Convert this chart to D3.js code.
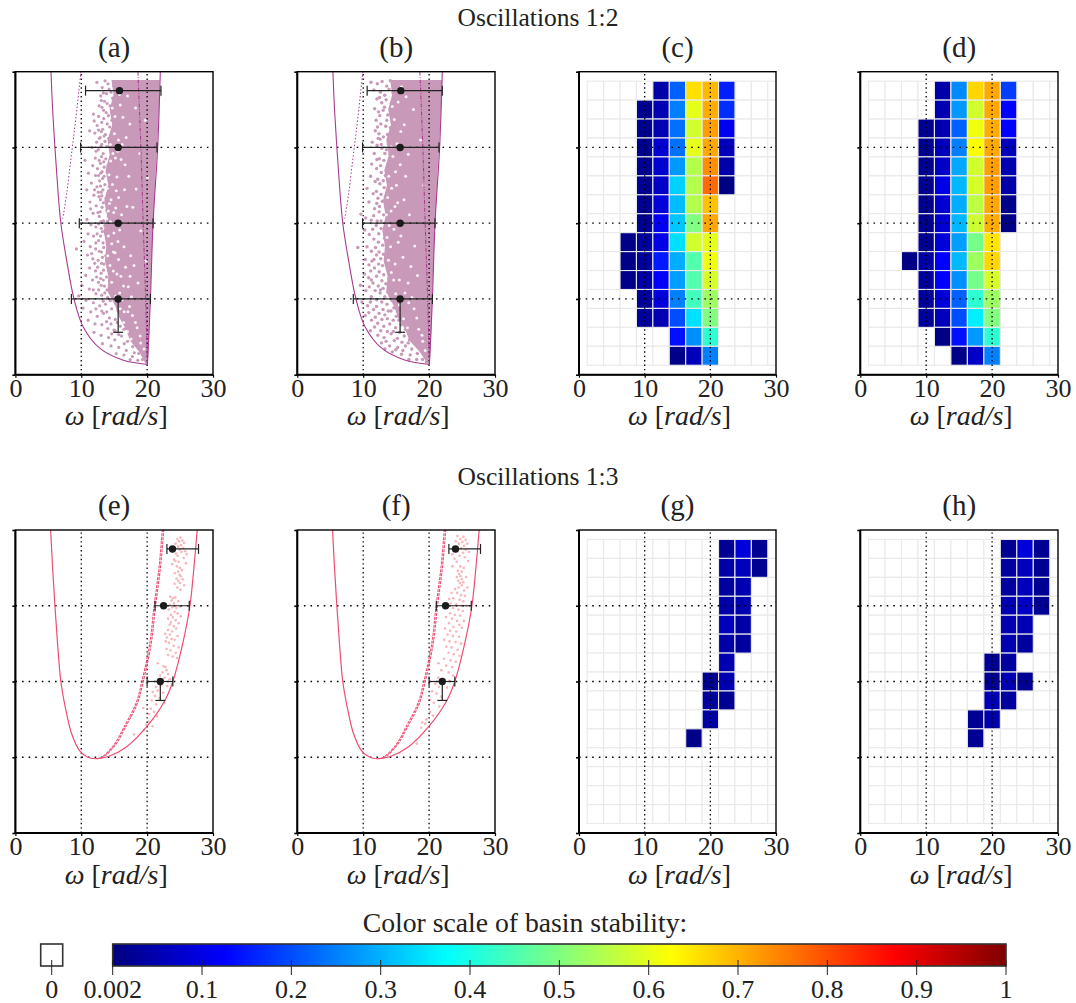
<!DOCTYPE html>
<html>
<head>
<meta charset="utf-8">
<script src="https://cdn.jsdelivr.net/npm/d3@7/dist/d3.min.js"></script>
<style>
  html, body { margin: 0; padding: 0; background: #fff; }
  text { font-family: "Liberation Serif", serif; fill: #222; }
</style>
</head>
<body>
<svg id="chart" width="1076" height="1003"></svg>
<script>
// ---- data ----
var xTicks = [0, 10, 20, 30];
var yTicks = [0, 1, 2, 3, 4];
var gridX = [10, 20];
var gridY = [1, 2, 3];
var columns = [2.5, 5, 7.5, 10, 12.5, 15, 17.5, 20, 22.5, 25, 27.5, 30];
var rows = [3.75, 3.5, 3.25, 3, 2.75, 2.5, 2.25, 2, 1.75, 1.5, 1.25, 1, 0.75, 0.5, 0.25];

// boundary curves [omega, theta]
var curveLeft12 = [[5.4,4],[5.65,3.5],[6,3],[6.4,2.5],[6.9,2],[7.8,1.5],[8.9,1],[10.3,0.63],[12.8,0.35],[16.4,0.19],[20.05,0.135]];
var curveRight12 = [[22,4],[21.6,3],[20.9,2],[20.5,1],[20.05,0.135]];
var curveDotted12 = [[9.95,4],[9.2,3.4],[8.5,2.9],[7.8,2.4],[7.2,2.06]];
var curveDash12 = [[18.6,4],[19.05,3],[19.4,2],[19.75,1.07],[20.05,0.135]];
var curveLeft13 = [[5.35,4],[5.65,3.5],[6,3],[6.4,2.5],[6.9,2],[7.6,1.65],[8.5,1.32],[9.8,1.08],[11,1],[12.2,0.98]];
var curveRight13 = [[12.2,0.98],[14.1,1.01],[16.9,1.14],[19.9,1.4],[22.7,1.75],[23.9,2],[25.4,2.5],[26.5,3],[27.1,3.5],[27.6,4]];
var curveDash13 = [[12.2,0.98],[13.1,1],[15.1,1.18],[16.5,1.4],[18.3,1.71],[19.2,2],[20.4,2.5],[21.06,3],[21.8,3.5],[22.3,4]];

// dense part of the oscillation 1:2 clouds [theta, left omega, right omega]
var denseA = [[3.89,14.6,21.9],[3.7,14.9,21.85],[3.5,14.3,21.8],[3.3,14.7,21.7],[3.1,14,21.55],[2.9,14.3,21.45],[2.7,13.7,21.3],[2.5,14.1,21.2],[2.3,13.5,21.1],[2.1,13.9,20.95],[1.9,13.4,20.85],[1.7,13.8,20.75],[1.5,13.6,20.7],[1.3,14.1,20.6],[1.1,14,20.5],[0.9,15.2,20.45],[0.75,15.8,20.4],[0.6,16.8,20.35],[0.45,17.4,20.3],[0.3,18.8,20.2],[0.14,19.8,20.1]];
var denseB = [[3.89,14.1,22],[3.7,14.4,21.9],[3.5,13.8,21.8],[3.3,14.2,21.7],[3.1,13.5,21.55],[2.9,13.9,21.45],[2.7,13.2,21.3],[2.5,13.6,21.2],[2.3,13,21.1],[2.1,13.4,20.95],[1.9,12.9,20.85],[1.7,13.3,20.75],[1.5,13.1,20.7],[1.3,13.7,20.6],[1.1,13.5,20.5],[0.9,14.7,20.45],[0.75,15.3,20.4],[0.6,16.4,20.35],[0.45,17,20.3],[0.3,18.6,20.2],[0.14,19.8,20.1]];

// single points of the clouds [omega, theta]
var scatterA = [[12.37,3.86],[13.61,3.88],[14.92,3.81],[13.18,3.79],[15.23,3.87],[14.07,3.84],[14.51,3.73],[13.83,3.71],[15.44,3.76],[12.96,3.68],[14.77,3.65],[14.23,3.77],[15.08,3.62],[13.52,3.61],[14.38,3.55],[13.14,3.53],[15.37,3.58],[14.86,3.48],[13.79,3.46],[11.84,3.44],[14.12,3.42],[15.19,3.44],[12.63,3.41],[13.41,3.38],[14.64,3.36],[11.96,3.35],[15.02,3.33],[13.94,3.31],[12.41,3.29],[14.31,3.27],[13.26,3.24],[15.28,3.25],[14.72,3.21],[11.27,3.22],[12.07,3.19],[13.67,3.17],[12.88,3.13],[14.18,3.12],[14.94,3.09],[12.34,3.07],[13.11,3.04],[15.11,3.06],[13.86,3.01],[14.47,2.99],[11.63,3],[12.58,2.97],[13.33,2.92],[14.82,2.93],[12.13,2.86],[13.72,2.85],[14.27,2.81],[12.91,2.79],[15.04,2.82],[10.56,2.83],[11.74,2.76],[13.48,2.74],[12.46,2.72],[14.61,2.71],[13.97,2.67],[11.08,2.66],[12.17,2.63],[14.88,2.62],[13.24,2.59],[12.77,2.56],[14.36,2.55],[11.53,2.53],[13.59,2.51],[12.38,2.48],[14.09,2.47],[14.71,2.43],[13.02,2.41],[10.83,2.44],[11.92,2.37],[12.69,2.35],[13.77,2.33],[14.43,2.3],[11.31,2.28],[12.26,2.23],[13.16,2.21],[13.89,2.17],[14.57,2.2],[11.79,2.13],[12.73,2.09],[14.13,2.06],[13.37,2.03],[14.74,2.11],[10.87,2.05],[11.47,1.98],[12.21,1.95],[13.04,1.93],[13.68,1.87],[14.29,1.91],[11.03,1.86],[11.88,1.83],[12.64,1.77],[13.31,1.74],[14.02,1.71],[14.66,1.79],[10.42,1.76],[11.36,1.69],[12.19,1.66],[13.06,1.62],[13.73,1.57],[14.48,1.6],[9.27,1.66],[10.94,1.58],[11.76,1.53],[12.57,1.51],[13.44,1.46],[14.13,1.42],[14.84,1.49],[11.28,1.41],[12.16,1.37],[13.01,1.34],[13.83,1.29],[14.56,1.32],[10.69,1.31],[11.71,1.25],[12.62,1.22],[13.52,1.17],[14.34,1.14],[15.02,1.2],[10.12,1.18],[11.22,1.13],[12.23,1.07],[13.11,1.05],[14.01,1.02],[14.78,1.06],[9.61,1.04],[10.73,0.98],[11.84,0.95],[12.81,0.91],[13.69,0.93],[14.62,0.87],[15.32,0.93],[15.71,1.01],[10.27,0.88],[11.43,0.83],[12.42,0.77],[13.38,0.81],[14.26,0.75],[15.17,0.73],[16.03,0.79],[11.04,0.72],[12.08,0.67],[13.13,0.66],[14.03,0.61],[14.97,0.59],[15.92,0.64],[16.74,0.61],[17.21,0.68],[11.93,0.56],[13.02,0.52],[14.14,0.49],[15.09,0.46],[16.11,0.51],[17.03,0.44],[17.58,0.53],[13.22,0.41],[14.52,0.38],[15.69,0.36],[16.83,0.32],[17.81,0.37],[18.32,0.43],[15.31,0.28],[16.48,0.26],[17.77,0.24],[18.72,0.28],[17.42,0.2],[18.58,0.19],[19.29,0.2],[12.74,3.12],[13.47,3.15],[14.56,3.02],[12.25,2.95],[14.03,2.76],[13.16,2.68],[12.02,2.44],[13.35,2.27],[12.87,2.15],[11.42,2.19],[13.58,1.97],[12.41,1.86],[11.58,1.6],[13.22,1.55],[12.04,1.47],[13.96,1.72],[14.77,1.39],[12.94,1.27],[13.91,1.12],[11.83,1.12],[13.35,0.97],[14.41,0.98],[12.23,0.87],[15.58,0.85],[13.84,0.7],[15.47,0.69],[16.48,0.71],[14.63,0.54],[16.52,0.41],[18.06,0.29],[13.36,3.72],[12.71,3.55],[14.48,3.14],[15.03,2.72],[14.17,2.38],[15.12,2.27],[14.83,1.94],[15.16,1.66],[15.24,1.41],[14.97,1.28],[15.55,1.14],[15.86,0.94],[16.31,0.89],[16.9,0.75],[17.46,0.6],[18.0,0.5],[18.57,0.4],[19.11,0.33],[19.6,0.24],[13.04,3.62],[13.39,3.49],[13.93,3.58],[13.12,3.33],[12.62,3.23],[13.04,3.21],[13.61,3.08],[12.95,3.01],[13.08,2.88],[12.72,2.83],[13.41,2.81],[12.62,2.63],[12.96,2.66],[13.47,2.62],[12.92,2.49],[13.29,2.44],[12.58,2.41],[12.91,2.31],[13.11,2.36],[12.53,2.14],[12.98,2.02],[12.62,1.99],[12.93,1.83],[13.21,1.89],[12.21,1.74],[12.74,1.63],[13.41,1.68],[12.48,1.42],[13.09,1.47],[13.37,1.38],[12.33,1.29],[13.34,1.25],[13.02,1.18],[12.64,1.12],[13.57,1.08],[13.12,0.84],[13.88,0.83],[14.51,0.67],[15.14,0.58],[15.68,0.53],[16.49,0.6]];
var holesA = [[15.81,3.7],[16.32,3.4],[15.64,3.1],[17.38,3.31],[16.04,2.84],[15.42,2.61],[16.57,2.44],[15.23,2.2],[17.22,2.62],[15.83,1.91],[16.48,1.69],[15.14,1.61],[18.01,1.44],[16.02,1.3],[17.14,1.16],[15.83,1.08],[17.32,0.9],[18.22,0.69],[18.93,0.51],[19.53,0.34],[16.21,3.04],[18.24,3.52],[19.71,3.36],[17.83,2.21],[19.04,1.9],[18.61,1.21],[15.92,3.56],[15.68,2.34],[16.12,2.11],[15.57,1.76],[16.72,1.42],[16.41,1.17],[17.62,1.03],[17.09,0.83],[17.77,0.78],[18.48,0.62],[19.02,0.42],[16.82,3.13],[15.55,2.95],[16.93,2.22],[17.51,1.57],[16.65,2.77],[17.02,3.68],[15.66,1.52],[16.2,0.99],[17.41,1.3],[18.9,2.92],[20.05,2.6],[19.8,1.5],[18.33,2.45],[14.7,3.52],[15.12,3.41],[14.42,3.04],[14.81,2.92],[14.21,2.64],[14.72,2.51],[13.94,2.46],[14.52,2.31],[14.11,2.16],[13.86,2.06],[14.44,2.02],[14.12,1.83],[14.63,1.73],[14.03,1.57],[14.36,1.44],[14.87,1.37],[14.61,1.22],[15.22,1.04],[15.91,0.87],[16.44,0.69],[17.02,0.57],[15.03,3.18],[14.92,2.14],[14.95,1.87],[15.18,2.86],[15.32,2.43],[14.47,2.82],[14.28,2.26],[14.88,1.62],[15.42,1.33],[16.52,0.83],[17.56,0.47]];

var scatterB = [[11.18,3.86],[12.14,3.84],[12.87,3.87],[13.56,3.81],[14.12,3.88],[11.63,3.76],[12.61,3.73],[13.27,3.69],[13.91,3.77],[14.52,3.72],[12.08,3.64],[12.82,3.59],[13.48,3.63],[14.26,3.58],[14.81,3.66],[11.74,3.51],[12.33,3.47],[13.03,3.49],[13.72,3.43],[14.37,3.46],[14.93,3.39],[11.96,3.36],[12.68,3.31],[13.41,3.28],[14.14,3.26],[14.76,3.31],[11.83,3.22],[12.39,3.18],[13.07,3.14],[13.69,3.17],[14.31,3.09],[14.92,3.14],[11.37,3.07],[12.11,3.03],[12.83,2.99],[13.52,2.97],[14.09,2.91],[14.71,2.98],[11.68,2.92],[12.44,2.85],[13.13,2.83],[13.84,2.79],[14.46,2.84],[11.29,2.78],[12.03,2.72],[12.74,2.67],[13.37,2.63],[14.01,2.59],[14.63,2.66],[11.12,2.62],[11.81,2.55],[12.53,2.52],[13.18,2.47],[13.79,2.41],[14.43,2.51],[10.58,2.46],[11.52,2.39],[12.24,2.33],[12.91,2.29],[13.63,2.23],[14.22,2.36],[10.87,2.28],[11.73,2.19],[12.42,2.15],[13.09,2.11],[13.58,2.03],[14.11,2.17],[9.64,2.12],[10.37,2.07],[11.21,2.04],[11.98,1.97],[12.72,1.93],[13.38,1.87],[14.06,1.96],[10.23,1.91],[10.92,1.85],[11.62,1.79],[12.31,1.75],[12.98,1.71],[13.64,1.66],[14.28,1.78],[9.18,1.68],[10.57,1.69],[11.24,1.63],[12.02,1.58],[12.67,1.53],[13.41,1.49],[14.02,1.57],[10.31,1.52],[10.88,1.45],[11.71,1.41],[12.43,1.36],[13.12,1.32],[13.93,1.27],[14.52,1.41],[10.18,1.33],[10.83,1.28],[11.49,1.21],[12.28,1.17],[13.03,1.14],[13.77,1.09],[14.41,1.14],[9.58,1.18],[10.41,1.11],[11.23,1.03],[12.04,0.99],[12.83,0.96],[13.61,0.93],[14.38,0.98],[15.13,0.94],[9.82,0.96],[10.68,0.91],[11.57,0.86],[12.41,0.81],[13.29,0.79],[14.22,0.84],[15.02,0.77],[15.83,0.82],[10.31,0.78],[11.27,0.72],[12.18,0.68],[13.12,0.64],[14.03,0.67],[14.92,0.62],[15.78,0.66],[16.43,0.6],[11.09,0.58],[12.22,0.52],[13.17,0.49],[14.24,0.54],[15.18,0.48],[16.23,0.51],[17.02,0.46],[12.76,0.42],[14.01,0.38],[15.23,0.36],[16.41,0.38],[17.37,0.34],[14.42,0.3],[15.82,0.27],[17.13,0.26],[18.22,0.28],[16.93,0.2],[18.12,0.2],[19.01,0.2],[12.48,3.66],[13.22,3.53],[12.17,3.27],[13.58,3.36],[14.63,3.21],[12.57,3.11],[13.82,3.05],[13.29,2.92],[12.08,2.84],[14.27,2.72],[13.04,2.56],[12.01,2.42],[12.71,2.38],[13.36,2.35],[14.08,2.27],[12.06,2.26],[11.58,2.1],[12.71,2.03],[13.87,2.07],[11.44,1.92],[12.36,1.86],[13.26,1.8],[14.36,1.63],[11.63,1.52],[12.34,1.46],[13.07,1.59],[13.73,1.43],[11.14,1.37],[12.01,1.3],[12.84,1.24],[13.44,1.2],[14.19,1.21],[10.92,1.16],[11.82,1.11],[12.57,1.08],[13.28,1.03],[14.07,1.04],[14.83,1.03],[11.1,0.96],[12.01,0.9],[13.01,0.86],[13.81,0.84],[14.66,0.88],[15.47,0.86],[10.86,0.82],[11.83,0.76],[12.84,0.73],[13.66,0.74],[14.56,0.72],[15.41,0.72],[16.28,0.74],[11.72,0.63],[12.67,0.58],[13.66,0.57],[14.57,0.57],[15.54,0.56],[16.83,0.55],[17.52,0.55],[13.48,0.44],[14.72,0.45],[15.88,0.43],[16.84,0.42],[18.01,0.41],[13.31,0.34],[14.95,0.33],[16.02,0.32],[18.63,0.35],[15.92,0.96],[16.41,0.87],[16.96,0.74],[17.63,0.62],[18.12,0.5],[18.91,0.38],[19.44,0.28],[19.6,0.17],[12.52,3.42],[12.27,3.12],[12.74,3.04],[12.66,2.76],[12.21,2.58],[12.47,2.22],[12.12,2.03],[11.87,1.68],[12.41,1.62],[11.32,1.5],[12.93,1.44],[11.24,1.25],[12.62,1.12]];
var holesB = [[15.31,3.6],[16.22,3.3],[15.13,3.05],[16.84,2.91],[15.04,2.5],[16.19,2.31],[15.42,2],[16.03,1.55],[15.48,1.25],[16.33,1.08],[17.82,1.7],[18.24,1.31],[16.91,0.95],[18.13,0.75],[18.92,0.52],[19.41,0.32],[17.62,3.5],[17.01,2.11],[15.62,2.77],[15.32,1.75],[15.82,3.8],[16.51,3.67],[15.71,3.21],[15.23,2.27],[15.72,1.83],[17.23,1.43],[16.82,1.21],[17.4,1.02],[17.72,0.87],[18.42,0.6],[19.03,0.44],[16.44,2.62],[19.2,2.5],[18.7,3.1],[14.41,3.54],[14.72,3.37],[14.23,3.01],[14.51,2.88],[13.88,2.62],[14.32,2.46],[13.71,2.34],[14.22,2.16],[13.94,1.97],[13.62,1.81],[14.16,1.69],[13.83,1.51],[14.27,1.35],[14.62,1.25],[14.93,1.07],[15.47,0.92],[16.12,0.74],[16.71,0.62],[14.83,2.22],[14.66,1.92],[14.91,2.68],[13.52,2.11],[14.84,1.46]];

var scatterE = [[24.6,3.88],[25.05,3.9],[24.85,3.85],[25.35,3.86],[25.62,3.83],[24.32,3.82],[25.15,3.8],[24.72,3.78],[25.48,3.76],[24.12,3.75],[24.95,3.74],[25.2,3.71],[25.78,3.72],[24.4,3.69],[24.62,3.66],[26,3.68],[25.55,3.63],[24.08,3.61],[24.28,3.59],[24.78,3.58],[23.82,3.55],[25.9,3.56],[24.52,3.52],[24.98,3.5],[25.28,3.47],[24.7,3.45],[24.2,3.43],[24.92,3.41],[25.12,3.39],[24.45,3.36],[25.4,3.35],[24.72,3.33],[24.98,3.3],[24.18,3.29],[25.62,3.27],[24.58,3.24],[25.05,3.21],[23.52,3.12],[23.92,3.1],[24.28,3.11],[23.72,3.07],[24.72,3.06],[24.08,3.03],[23.42,3.01],[23.85,2.98],[24.45,2.97],[24.98,2.99],[23.3,2.95],[24.18,2.92],[24.62,2.9],[23.62,2.88],[23.9,2.85],[25.1,2.86],[23.18,2.83],[24.32,2.81],[23.6,2.78],[24.78,2.77],[23.42,2.75],[24.05,2.73],[24.42,2.7],[23.18,2.68],[23.78,2.66],[22.72,2.63],[23.45,2.62],[24.62,2.6],[23.0,2.58],[23.72,2.56],[24.18,2.55],[22.82,2.53],[23.32,2.51],[24.02,2.47],[24.78,2.45],[22.95,2.43],[23.55,2.41],[24.35,2.38],[23.2,2.35],[23.88,2.33],[24.55,2.31],[22.5,2.2],[22.78,2.19],[22.95,2.15],[22.35,2.12],[23.18,2.1],[21.95,2.08],[22.62,2.05],[23.42,2.03],[21.62,2.24],[22.12,1.95],[23.05,1.94],[21.35,1.93],[21.6,1.88],[22.42,1.85],[20.85,1.86],[21.18,1.81],[21.92,1.78],[22.62,1.72],[20.7,1.75],[21.35,1.7],[20.55,1.64],[21.05,1.6],[20.3,1.57],[21.48,1.54],[19.42,1.65],[20.22,1.47],[19.88,1.43],[20.82,1.41],[19.52,1.36],[18.02,1.3]];
var scatterF = [[24.3,3.92],[25.2,3.91],[24.75,3.88],[25.55,3.87],[24.05,3.85],[25.05,3.84],[24.5,3.82],[25.8,3.82],[25.3,3.79],[23.95,3.77],[24.85,3.76],[25.55,3.74],[24.32,3.72],[25.15,3.7],[26.05,3.71],[23.55,3.68],[24.62,3.66],[25.42,3.64],[23.85,3.62],[24.18,3.58],[25.92,3.59],[23.55,3.52],[24.72,3.52],[25.25,3.5],[24.35,3.46],[24.95,3.45],[24.55,3.42],[24.75,3.39],[24.2,3.38],[24.98,3.35],[25.62,3.38],[24.42,3.33],[24.68,3.3],[25.18,3.31],[24.95,3.27],[24.48,3.24],[25.82,3.24],[23.95,3.22],[25.3,3.2],[24.25,3.17],[23.42,3.17],[24.85,3.14],[25.45,3.13],[23.05,3.09],[23.68,3.1],[24.62,3.08],[25.2,3.06],[23.25,3.03],[24.12,3.02],[24.92,3.0],[25.68,3.0],[23.62,2.97],[22.72,2.98],[24.45,2.95],[25.12,2.93],[23.18,2.9],[23.9,2.88],[24.72,2.87],[22.55,2.85],[23.48,2.83],[24.25,2.8],[25.28,2.8],[23.02,2.77],[24.58,2.75],[23.7,2.72],[24.98,2.71],[22.42,2.7],[23.2,2.67],[24.12,2.66],[22.8,2.62],[23.62,2.6],[24.55,2.59],[22.3,2.55],[23.1,2.53],[24.02,2.52],[24.85,2.5],[22.62,2.46],[23.4,2.45],[24.32,2.42],[22.95,2.38],[23.75,2.36],[24.62,2.34],[22.28,2.3],[23.25,2.28],[24.05,2.26],[21.42,2.24],[22.6,2.21],[23.5,2.19],[21.85,2.15],[22.95,2.12],[23.62,2.08],[21.4,2.05],[22.25,2.03],[23.1,2.01],[20.92,1.97],[21.5,1.93],[22.72,1.92],[20.45,1.87],[21.15,1.84],[21.88,1.8],[20.12,1.76],[20.72,1.72],[21.55,1.67],[20.15,1.6],[20.6,1.55],[19.6,1.5],[18.95,1.46],[19.42,1.44],[18.82,1.39],[18.12,1.18]];

// error bars: omega centre, low, high at theta, vertical low end (if any)
var errTheta12 = [3.75, 3, 2, 1];
var errCentreA = [15.8, 15.6, 15.6, 15.6];
var errLowA = [10.65, 9.9, 9.7, 8.5];
var errHighA = [22.1, 21.5, 20.9, 20.5];
var errCentreB = [15.7, 15.6, 15.6, 15.6];
var errLowB = [10.6, 9.9, 9.9, 8.5];
var errHighB = [22, 21.5, 20.9, 20.5];
var errTheta13 = [3.75, 3, 2];
var errCentreE = [23.85, 22.5, 22];
var errLowE = [23, 21.2, 20];
var errHighE = [27.8, 26.4, 23.9];
var errCentreF = [24, 22.5, 22];
var errLowF = [23, 21.1, 20];
var errHighF = [27.8, 26.4, 23.9];

// heat maps, one row per theta from the top, one value per column, 0 = empty
var heatC = [
  [0,0,0,0,.04,.22,.655,.695,.155,0,0,0],
  [0,0,0,.02,.05,.25,.6,.705,.17,0,0,0],
  [0,0,0,.02,.05,.235,.58,.72,.11,0,0,0],
  [0,0,0,.02,.08,.235,.6,.71,.06,0,0,0],
  [0,0,0,.02,.08,.275,.55,.735,.04,0,0,0],
  [0,0,0,.02,.07,.33,.55,.77,.005,0,0,0],
  [0,0,0,.02,.09,.31,.55,.685,0,0,0,0],
  [0,0,0,.02,.11,.32,.5,.71,0,0,0,0],
  [0,0,.01,.03,.1,.345,.58,.6,0,0,0,0],
  [0,0,.01,.03,.15,.295,.455,.61,0,0,0,0],
  [0,0,.01,.04,.12,.28,.455,.585,0,0,0,0],
  [0,0,0,.03,.09,.25,.44,.53,0,0,0,0],
  [0,0,0,.03,.05,.2,.345,.5,0,0,0,0],
  [0,0,0,0,0,.14,.265,.42,0,0,0,0],
  [0,0,0,0,0,.01,.06,.25,0,0,0,0]
];
var heatD = [
  [0,0,0,0,.04,.26,.665,.71,.185,0,0,0],
  [0,0,0,0,.05,.275,.58,.71,.125,0,0,0],
  [0,0,0,.02,.05,.22,.61,.705,.125,0,0,0],
  [0,0,0,.02,.06,.25,.625,.71,.06,0,0,0],
  [0,0,0,.02,.07,.29,.58,.72,.05,0,0,0],
  [0,0,0,.02,.1,.305,.585,.72,.04,0,0,0],
  [0,0,0,.02,.08,.295,.56,.71,.01,0,0,0],
  [0,0,0,.02,.08,.305,.575,.705,.005,0,0,0],
  [0,0,0,.02,.09,.28,.49,.65,0,0,0,0],
  [0,0,.005,.04,.125,.305,.53,.665,0,0,0,0],
  [0,0,0,.03,.125,.265,.49,.585,0,0,0,0],
  [0,0,0,.03,.09,.22,.42,.53,0,0,0,0],
  [0,0,0,.03,.06,.2,.36,.5,0,0,0,0],
  [0,0,0,0,.005,.14,.275,.42,0,0,0,0],
  [0,0,0,0,0,.01,.07,.25,0,0,0,0]
];
var heatG = [
  [0,0,0,0,0,0,0,0,.02,.09,.02,0],
  [0,0,0,0,0,0,0,0,.04,.06,.02,0],
  [0,0,0,0,0,0,0,0,.03,.05,0,0],
  [0,0,0,0,0,0,0,0,.04,.05,0,0],
  [0,0,0,0,0,0,0,0,.06,.04,0,0],
  [0,0,0,0,0,0,0,0,.04,.03,0,0],
  [0,0,0,0,0,0,0,0,.05,0,0,0],
  [0,0,0,0,0,0,0,.02,.05,0,0,0],
  [0,0,0,0,0,0,0,.03,.02,0,0,0],
  [0,0,0,0,0,0,0,.04,0,0,0,0],
  [0,0,0,0,0,0,.01,0,0,0,0,0],
  [0,0,0,0,0,0,0,0,0,0,0,0],
  [0,0,0,0,0,0,0,0,0,0,0,0],
  [0,0,0,0,0,0,0,0,0,0,0,0],
  [0,0,0,0,0,0,0,0,0,0,0,0]
];
var heatH = [
  [0,0,0,0,0,0,0,0,.02,.09,.02,0],
  [0,0,0,0,0,0,0,0,.03,.06,.02,0],
  [0,0,0,0,0,0,0,0,.03,.06,.02,0],
  [0,0,0,0,0,0,0,0,.05,.07,.02,0],
  [0,0,0,0,0,0,0,0,.05,.05,0,0],
  [0,0,0,0,0,0,0,0,.05,.03,0,0],
  [0,0,0,0,0,0,0,.02,.03,0,0,0],
  [0,0,0,0,0,0,0,.02,.05,.02,0,0],
  [0,0,0,0,0,0,0,.05,.03,0,0,0],
  [0,0,0,0,0,0,.02,.04,0,0,0,0],
  [0,0,0,0,0,0,.02,0,0,0,0,0],
  [0,0,0,0,0,0,0,0,0,0,0,0],
  [0,0,0,0,0,0,0,0,0,0,0,0],
  [0,0,0,0,0,0,0,0,0,0,0,0],
  [0,0,0,0,0,0,0,0,0,0,0,0]
];

var scaleTicks = [0, .1, .2, .3, .4, .5, .6, .7, .8, .9, 1];
var scaleLabels = ["0.002", "0.1", "0.2", "0.3", "0.4", "0.5", "0.6", "0.7", "0.8", "0.9", "1"];
var jetStops = [0, .125, .375, .625, .875, 1];
var jetColors = ["#00007f", "#0000ff", "#00ffff", "#ffff00", "#ff0000", "#7f0000"];

// ---- drawing ----
var svg = d3.select("#chart");
var jet = d3.scaleLinear().domain(jetStops).range(jetColors);
var PURPLE = "#a63a8e", PURPLE_DOT = "#c899b9", RED = "#ee4d72", RED_DOT = "#f7b6b8";
var clipCount = 0;

function drawFrame(g, x, y) {
  // frame, ticks both sides of the frame
  g.append("g").attr("transform", "translate(0," + y.range()[0] + ")")
    .call(d3.axisBottom(x).tickValues(xTicks).tickSize(3).tickPadding(1))
    .call(function(a) {
      a.selectAll("text").style("font-size", "26px").style("font-family", '"Liberation Serif", serif').attr("fill", "#222");
      a.selectAll("line").attr("stroke", "#000").attr("stroke-width", 1.2);
      a.select(".domain").remove();
    });
  g.append("g").attr("transform", "translate(" + x.range()[0] + ",0)")
    .call(d3.axisLeft(y).tickValues(yTicks).tickSize(3).tickFormat(""))
    .call(function(a) {
      a.selectAll("line").attr("stroke", "#000").attr("stroke-width", 1.6);
      a.select(".domain").remove();
    });
  g.append("rect")
    .attr("x", x.range()[0]).attr("y", y.range()[1])
    .attr("width", x.range()[1] - x.range()[0]).attr("height", y.range()[0] - y.range()[1])
    .attr("fill", "none").attr("stroke", "#000").attr("stroke-width", 1.4);
  g.append("line")
    .attr("x1", x.range()[0]).attr("x2", x.range()[0]).attr("y1", y.range()[1]).attr("y2", y.range()[0])
    .attr("stroke", "#000").attr("stroke-width", 2);
  g.append("line")
    .attr("x1", x.range()[0]).attr("x2", x.range()[1]).attr("y1", y.range()[0]).attr("y2", y.range()[0])
    .attr("stroke", "#000").attr("stroke-width", 2);
}

function drawGrid(g, x, y) {
  g.selectAll(".gx").data(gridX).join("line")
    .attr("x1", function(d) { return x(d); }).attr("x2", function(d) { return x(d); })
    .attr("y1", y.range()[0]).attr("y2", y.range()[1])
    .attr("stroke", "#000").attr("stroke-width", 1.3).attr("stroke-dasharray", "1.4 3");
  g.selectAll(".gy").data(gridY).join("line")
    .attr("x1", x.range()[0]).attr("x2", x.range()[1])
    .attr("y1", function(d) { return y(d); }).attr("y2", function(d) { return y(d); })
    .attr("stroke", "#000").attr("stroke-width", 1.3).attr("stroke-dasharray", "1.6 5");
}

function drawLabels(g, x, y, title) {
  var cx = (x.range()[0] + x.range()[1]) / 2;
  g.append("text").attr("x", cx).attr("y", y.range()[1] - 15).attr("text-anchor", "middle")
    .style("font-size", "29px").text(title);
  var lab = g.append("text").attr("x", cx + 2).attr("y", y.range()[0] + 50.5).attr("text-anchor", "middle")
    .style("font-size", "28px");
  lab.append("tspan").style("font-style", "italic").text("\u03c9");
  lab.append("tspan").text(" [");
  lab.append("tspan").style("font-style", "italic").text("rad/s");
  lab.append("tspan").text("]");
}

function drawCurve(g, x, y, pts, color, width, dash) {
  var line = d3.line().x(function(d) { return x(d[0]); }).y(function(d) { return y(d[1]); }).curve(d3.curveCatmullRom);
  g.append("path").attr("d", line(pts)).attr("fill", "none")
    .attr("stroke", color).attr("stroke-width", width).attr("stroke-dasharray", dash || null);
}

function drawError(g, x, y, thetas, centres, lows, highs, vertEnd) {
  var ink = "#222";
  thetas.forEach(function(t, i) {
    g.append("line").attr("x1", x(lows[i])).attr("x2", x(highs[i])).attr("y1", y(t)).attr("y2", y(t))
      .attr("stroke", ink).attr("stroke-width", 1.2);
    [lows[i], highs[i]].forEach(function(w) {
      g.append("line").attr("x1", x(w)).attr("x2", x(w)).attr("y1", y(t) - 5).attr("y2", y(t) + 5)
        .attr("stroke", ink).attr("stroke-width", 1.2);
    });
  });
  var last = thetas.length - 1;
  g.append("line").attr("x1", x(centres[last])).attr("x2", x(centres[last]))
    .attr("y1", y(thetas[last])).attr("y2", y(vertEnd))
    .attr("stroke", ink).attr("stroke-width", 1.2);
  g.append("line").attr("x1", x(centres[last] - .75)).attr("x2", x(centres[last] + .75))
    .attr("y1", y(vertEnd)).attr("y2", y(vertEnd))
    .attr("stroke", ink).attr("stroke-width", 1.2);
  g.selectAll(".dot").data(thetas).join("circle")
    .attr("cx", function(d, i) { return x(centres[i]); })
    .attr("cy", function(d) { return y(d); })
    .attr("r", 3.7).attr("fill", "#1c1c1c");
}

function scatterPanel(opt) {
  var x = d3.scaleLinear().domain([0, 30]).range([opt.x0, opt.x1]);
  var y = d3.scaleLinear().domain([0, 4]).range([opt.bottom, opt.top]);
  var g = svg.append("g");
  var id = "clip" + (clipCount++);
  svg.append("clipPath").attr("id", id).append("rect")
    .attr("x", opt.x0).attr("y", opt.top).attr("width", opt.x1 - opt.x0).attr("height", opt.bottom - opt.top);
  var inner = g.append("g").attr("clip-path", "url(#" + id + ")");
  // holes go on top of the cloud so the inner speckle shows through
  inner.append("g").selectAll("circle").data(opt.points).join("circle")
    .attr("cx", function(d) { return x(d[0]); }).attr("cy", function(d) { return y(d[1]); })
    .attr("r", opt.dotR).attr("fill", opt.dotColor);
  if (opt.dense) {
    var area = d3.area().y(function(d) { return y(d[0]); })
      .x0(function(d) { return x(d[1]); }).x1(function(d) { return x(d[2]); });
    inner.append("path").attr("d", area(opt.dense)).attr("fill", opt.dotColor);
    inner.append("g").selectAll("circle").data(opt.holes).join("circle")
      .attr("cx", function(d) { return x(d[0]); }).attr("cy", function(d) { return y(d[1]); })
      .attr("r", 1.5).attr("fill", "#fff").attr("opacity", .85);
  }
  drawGrid(inner, x, y);
  opt.curves.forEach(function(c) { drawCurve(inner, x, y, c[0], opt.lineColor, c[1], c[2]); });
  drawError(g, x, y, opt.thetas, opt.centres, opt.lows, opt.highs, opt.vertEnd);
  drawFrame(g, x, y);
  drawLabels(g, x, y, opt.title);
}

function heatPanel(opt) {
  var x = d3.scaleLinear().domain([0, 30]).range([opt.x0, opt.x1]);
  var y = d3.scaleLinear().domain([0, 4]).range([opt.bottom, opt.top]);
  var g = svg.append("g");
  var id = "clip" + (clipCount++);
  svg.append("clipPath").attr("id", id).append("rect")
    .attr("x", opt.x0).attr("y", opt.top).attr("width", opt.x1 - opt.x0).attr("height", opt.bottom - opt.top);
  var inner = g.append("g").attr("clip-path", "url(#" + id + ")");
  var cells = [];
  opt.heat.forEach(function(row, r) {
    row.forEach(function(v, c) { cells.push({ w: columns[c], t: rows[r], v: v }); });
  });
  // empty cells first so the coloured borders stay on top
  cells.sort(function(a, b) { return (a.v > 0) - (b.v > 0); });
  inner.selectAll(".cell").data(cells).join("rect")
    .attr("x", function(d) { return x(d.w - 1.25); })
    .attr("y", function(d) { return y(d.t + .125); })
    .attr("width", x(2.5) - x(0))
    .attr("height", y(0) - y(.25))
    .attr("fill", function(d) { return d.v > 0 ? jet(d.v) : "#fff"; })
    .attr("stroke", "#e9e9e9").attr("stroke-width", 1.1);
  drawGrid(inner, x, y);
  drawFrame(g, x, y);
  drawLabels(g, x, y, opt.title);
}

var rowOne = { top: 71.7, bottom: 374.7 }, rowTwo = { top: 530, bottom: 833 };
var colX = [[15.4, 213], [297.3, 495], [579, 776], [860.3, 1058]];

function merge(a, b) { return Object.assign({}, a, b); }

scatterPanel(merge(rowOne, { x0: colX[0][0], x1: colX[0][1], title: "(a)", dense: denseA, holes: holesA, points: scatterA, dotR: 1.6, dotColor: PURPLE_DOT, lineColor: PURPLE,
  curves: [[curveLeft12, 1.1], [curveRight12, 1.1], [curveDotted12, 1, "1.5 2"], [curveDash12, 1, "4 1.5 1 1.5"]],
  thetas: errTheta12, centres: errCentreA, lows: errLowA, highs: errHighA, vertEnd: .56 }));
scatterPanel(merge(rowOne, { x0: colX[1][0], x1: colX[1][1], title: "(b)", dense: denseB, holes: holesB, points: scatterB, dotR: 1.7, dotColor: PURPLE_DOT, lineColor: PURPLE,
  curves: [[curveLeft12, 1.1], [curveRight12, 1.1], [curveDotted12, 1, "1.5 2"], [curveDash12, 1, "4 1.5 1 1.5"]],
  thetas: errTheta12, centres: errCentreB, lows: errLowB, highs: errHighB, vertEnd: .56 }));
heatPanel(merge(rowOne, { x0: colX[2][0], x1: colX[2][1], title: "(c)", heat: heatC }));
heatPanel(merge(rowOne, { x0: colX[3][0], x1: colX[3][1], title: "(d)", heat: heatD }));

var curves13 = [[curveLeft13, 1.2], [curveRight13, 1.2], [curveDash13, 1.1, "3 1"],
  [curveDash13.map(function(p) { return [p[0] + .22, p[1]]; }), 1.1, "3 1"]];
scatterPanel(merge(rowTwo, { x0: colX[0][0], x1: colX[0][1], title: "(e)", points: scatterE, dotR: 1.3, dotColor: RED_DOT, lineColor: RED, curves: curves13,
  thetas: errTheta13, centres: errCentreE, lows: errLowE, highs: errHighE, vertEnd: 1.75 }));
scatterPanel(merge(rowTwo, { x0: colX[1][0], x1: colX[1][1], title: "(f)", points: scatterF, dotR: 1.3, dotColor: RED_DOT, lineColor: RED, curves: curves13,
  thetas: errTheta13, centres: errCentreF, lows: errLowF, highs: errHighF, vertEnd: 1.75 }));
heatPanel(merge(rowTwo, { x0: colX[2][0], x1: colX[2][1], title: "(g)", heat: heatG }));
heatPanel(merge(rowTwo, { x0: colX[3][0], x1: colX[3][1], title: "(h)", heat: heatH }));

svg.append("text").attr("x", 538).attr("y", 26).attr("text-anchor", "middle").style("font-size", "25.5px").text("Oscillations 1:2");
svg.append("text").attr("x", 538).attr("y", 485).attr("text-anchor", "middle").style("font-size", "25.5px").text("Oscillations 1:3");
svg.append("text").attr("x", 525).attr("y", 932).attr("text-anchor", "middle").style("font-size", "27.7px").text("Color scale of basin stability:");

// colour bar
var barX = d3.scaleLinear().domain([0, 1]).range([112.7, 1006]);
var barTop = 944, barBottom = 966;
var defs = svg.append("defs");
var grad = defs.append("linearGradient").attr("id", "jetGrad");
jetStops.forEach(function(s, i) {
  grad.append("stop").attr("offset", s * 100 + "%").attr("stop-color", jetColors[i]);
});
svg.append("rect").attr("x", barX(0)).attr("y", barTop).attr("width", barX(1) - barX(0)).attr("height", barBottom - barTop)
  .attr("fill", "url(#jetGrad)").attr("stroke", "#333").attr("stroke-width", 1.6);
svg.selectAll(".barTick").data(scaleTicks).join("line")
  .attr("x1", function(d) { return barX(d); }).attr("x2", function(d) { return barX(d); })
  .attr("y1", 960).attr("y2", 975).attr("stroke", "#222").attr("stroke-width", 1);
svg.selectAll(".barLabel").data(scaleTicks).join("text")
  .attr("x", function(d) { return barX(d); }).attr("y", 998).attr("text-anchor", "middle")
  .style("font-size", "26px").text(function(d, i) { return scaleLabels[i]; });
svg.append("rect").attr("x", 40.7).attr("y", barTop).attr("width", 22).attr("height", barBottom - barTop)
  .attr("fill", "#fff").attr("stroke", "#333").attr("stroke-width", 1.6);
svg.append("line").attr("x1", 51.7).attr("x2", 51.7).attr("y1", 960).attr("y2", 975).attr("stroke", "#222").attr("stroke-width", 1);
svg.append("text").attr("x", 51.7).attr("y", 998).attr("text-anchor", "middle").style("font-size", "26px").text("0");
</script>
</body>
</html>
